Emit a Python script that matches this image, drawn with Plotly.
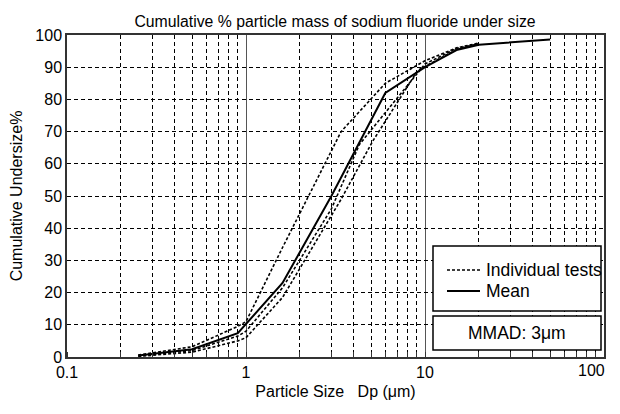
import math
import plotly.graph_objects as go

# Mean curve
mean_x = [0.25, 0.5, 0.9, 1.6, 3.0, 6.0, 10, 15, 20, 50]
mean_y = [0.5, 2.4, 7.4, 23, 50, 82, 90, 95.3, 97, 98.6]

# Individual tests
t1_x = [0.25, 0.5, 0.9, 1.0, 1.6, 3.4, 6.0, 10, 15, 20]
t1_y = [0.6, 3.2, 9.5, 11, 34, 70, 85, 92, 96, 97.5]
t2_x = [0.25, 0.5, 0.9, 1.0, 1.6, 3.0, 4.3, 10, 15, 20]
t2_y = [0.3, 2.0, 6.5, 8, 21.5, 46, 66, 91, 95.8, 97.3]
t3_x = [0.25, 0.5, 0.9, 1.0, 1.6, 3.4, 5.1, 9.1, 15, 20]
t3_y = [0.2, 1.5, 5.0, 6, 18.5, 49, 67, 89, 95.5, 97.3]

x_ticks = [0.1, 1, 10, 100]
x_tick_text = ["0.1", "1", "10", "100"]

FONT = "Liberation Sans, Arial, sans-serif"

# page body has an 8px margin, so the figure is sized to fill the 620x414 window
W, H = 612, 406
ML, MR, MT, MB = 59, 16, 27, 57
PW, PH = W - ML - MR, H - MT - MB  # plot area in px


def px(xs):  # screen x (window coords) -> paper
    return (xs - 8 - ML) / PW


def py(ys):  # screen y (window coords) -> paper
    return (H - MB - (ys - 8)) / PH


fig = go.Figure()
for tx, ty in [(t1_x, t1_y), (t2_x, t2_y), (t3_x, t3_y)]:
    fig.add_trace(go.Scatter(x=tx, y=ty, mode="lines",
                             line=dict(color="black", width=1.6, dash="3px,2px"),
                             showlegend=False, hoverinfo="skip"))
fig.add_trace(go.Scatter(x=mean_x, y=mean_y, mode="lines",
                         line=dict(color="black", width=2),
                         showlegend=False))

fig.update_layout(
    width=W, height=H,
    margin=dict(l=ML, r=MR, t=MT, b=MB, autoexpand=False),
    paper_bgcolor="white", plot_bgcolor="white",
    font=dict(family=FONT, color="black", size=16),
    title=dict(text="Cumulative % particle mass of sodium fluoride under size",
               x=(335 - 8) / W, xanchor="center", y=1 - (21 - 8) / H, yanchor="middle",
               font=dict(size=15.8, family=FONT, color="black")),
)

# the last tick label ("100") sits at the right edge; it is drawn as an
# annotation pulled slightly left so it stays inside the window
fig.update_xaxes(
    type="log", range=[-1, 2], automargin=False,
    tickvals=x_ticks, ticktext=x_tick_text[:-1] + [""],
    showgrid=True, gridcolor="#555", gridwidth=1,
    showline=True, linecolor="#333", linewidth=1.5, mirror=True,
    ticks="", zeroline=False,
    tickfont=dict(size=16),
    minor=dict(dtick="D1", showgrid=True, gridcolor="black", griddash="4px,3px",
               gridwidth=1, ticks="inside", ticklen=5, tickcolor="#333"),
    title=dict(text="Particle Size\u00a0\u00a0\u00a0Dp (μm)", font=dict(size=16), standoff=6),
)
fig.add_annotation(xref="x", yref="paper", x=math.log10(x_ticks[-1]), y=0,
                   text=x_tick_text[-1], showarrow=False, xanchor="right",
                   yanchor="top", xshift=3, yshift=-3, font=dict(size=16))

fig.update_yaxes(
    range=[0, 100], dtick=10, automargin=False,
    showgrid=True, gridcolor="black", griddash="4px,3px", gridwidth=1,
    showline=True, linecolor="#333", linewidth=1.5, mirror=True,
    ticks="", zeroline=False,
    tickfont=dict(size=16),
    title=dict(text="Cumulative Undersize%", font=dict(size=16), standoff=12),
)

# Legend box (manual)
lx0, lx1 = px(433), px(601)
fig.add_shape(type="rect", xref="paper", yref="paper",
              x0=lx0, x1=lx1, y0=py(311), y1=py(246),
              line=dict(color="black", width=1.5), fillcolor="white", layer="above")
fig.add_shape(type="rect", xref="paper", yref="paper",
              x0=lx0, x1=lx1, y0=py(350), y1=py(316),
              line=dict(color="black", width=1.5), fillcolor="white", layer="above")
# sample lines
fig.add_shape(type="line", xref="paper", yref="paper",
              x0=px(447), x1=px(480), y0=py(270), y1=py(270),
              line=dict(color="black", width=1.6, dash="3px,2px"), layer="above")
fig.add_shape(type="line", xref="paper", yref="paper",
              x0=px(447), x1=px(480), y0=py(291), y1=py(291),
              line=dict(color="black", width=2), layer="above")
fig.add_annotation(xref="paper", yref="paper", x=px(484), y=py(270),
                   text="Individual tests", showarrow=False, xanchor="left",
                   yanchor="middle", font=dict(size=17.5))
fig.add_annotation(xref="paper", yref="paper", x=px(484), y=py(291),
                   text="Mean", showarrow=False, xanchor="left",
                   yanchor="middle", font=dict(size=17.5))
fig.add_annotation(xref="paper", yref="paper", x=(lx0 + lx1) / 2, y=py(333),
                   text="MMAD: 3μm", showarrow=False, xanchor="center",
                   yanchor="middle", font=dict(size=17.5))

fig.write_html("out.html")
